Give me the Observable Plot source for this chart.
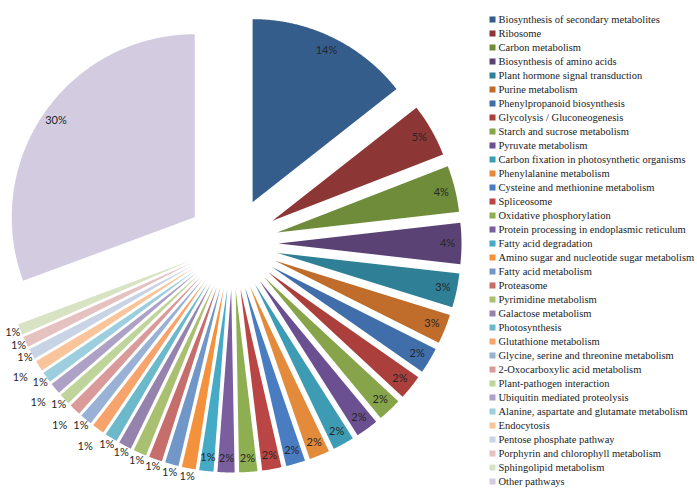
<!DOCTYPE html>
<html><head><meta charset="utf-8">
<script src="https://cdn.jsdelivr.net/npm/d3@7"></script>
<script src="https://cdn.jsdelivr.net/npm/@observablehq/plot@0.6"></script>
<style>
html,body{margin:0;padding:0;background:#fff;}
#wrap{position:relative;width:697px;height:502px;overflow:hidden;background:#fff;}
#pie{position:absolute;left:0;top:0;}
#legend{position:absolute;left:480px;top:0;}
</style></head><body><div id="wrap"><div id="pie"></div><div id="legend"></div></div>
<script>
const pathways = [
  "Biosynthesis of secondary metabolites","Ribosome","Carbon metabolism","Biosynthesis of amino acids",
  "Plant hormone signal transduction","Purine metabolism","Phenylpropanoid biosynthesis","Glycolysis / Gluconeogenesis",
  "Starch and sucrose metabolism","Pyruvate metabolism","Carbon fixation in photosynthetic organisms","Phenylalanine metabolism",
  "Cysteine and methionine metabolism","Spliceosome","Oxidative phosphorylation","Protein processing in endoplasmic reticulum",
  "Fatty acid degradation","Amino sugar and nucleotide sugar metabolism","Fatty acid metabolism","Proteasome",
  "Pyrimidine metabolism","Galactose metabolism","Photosynthesis","Glutathione metabolism",
  "Glycine, serine and threonine metabolism","2-Oxocarboxylic acid metabolism","Plant-pathogen interaction","Ubiquitin mediated proteolysis",
  "Alanine, aspartate and glutamate metabolism","Endocytosis","Pentose phosphate pathway","Porphyrin and chlorophyll metabolism",
  "Sphingolipid metabolism","Other pathways"
];
const shares = [
  14.4, 4.7, 4.1, 3.6, 3.0, 2.6, 2.3, 2.2, 2.1, 2.0, 1.9, 1.8, 1.7, 1.7, 1.6, 1.5,
  1.25, 1.22, 1.2, 1.18, 1.16, 1.14, 1.1, 1.07, 1.05, 1.03, 1.0, 0.98, 0.97, 0.96, 0.95, 0.95, 0.94,
  30.65
];
const percentLabels = [
  "14%","5%","4%","4%","3%","3%","2%","2%","2%","2%","2%","2%","2%","2%","2%","2%",
  "1%","1%","1%","1%","1%","1%","1%","1%","1%","1%","1%","1%","1%","1%","1%","1%","1%",
  "30%"
];
const colors = [
  "#345d8b","#8c3735","#6f8c3a","#5a4374","#2f8096","#c06c2b",
  "#3f6eaa","#aa3f3c","#87a44a","#6a5090","#3d9cb3","#e38b3a",
  "#4a7cc1","#b94644","#8eaf51","#7a5e9e","#45aac6","#f4913c",
  "#7097c8","#c66e6c","#a9c071","#9583ae","#6cb9cc","#f6a46c",
  "#9ab1d6","#d99a99","#bfd49a","#ada2c6","#9dcedd","#f9c49a",
  "#c8d3e6","#e5c1c0","#d7e3c3","#d3cce0"
];

// geometry (in radius units)
const PX = 183;            // pixels per radius unit
const explode = 46 / PX;   // exploded offset
const inside = 215 / PX;   // radius of inside labels
const outR = [237 / PX, 251 / PX, 265 / PX];

const arcs = d3.pie().sort(null).value(d => d)(shares);
const wedges = [];
arcs.forEach((a, i) => {
  const m = (a.startAngle + a.endAngle) / 2;
  const ox = explode * Math.sin(m), oy = explode * Math.cos(m);
  const name = pathways[i];
  wedges.push({name, x: ox, y: oy});
  const n = Math.max(2, Math.ceil((a.endAngle - a.startAngle) / 0.005));
  for (let k = 0; k <= n; k++) {
    const t = a.startAngle + (a.endAngle - a.startAngle) * k / n;
    wedges.push({name, x: ox + Math.sin(t), y: oy + Math.cos(t)});
  }
  wedges.push({name, x: ox, y: oy});
});

// labels: inside near the rim for the larger slices, outside (nudged outward on collision) for the rest
const labels = [];
const placed = [];
const bw = 14 / PX, bh = 12.5 / PX;
arcs.forEach((a, i) => {
  const m = (a.startAngle + a.endAngle) / 2;
  let r;
  if (shares[i] >= 1.24) r = inside;
  else {
    r = outR[outR.length - 1];
    for (const cand of outR) {
      const x = cand * Math.sin(m), y = cand * Math.cos(m);
      if (!placed.some(p => Math.abs(p.x - x) < bw && Math.abs(p.y - y) < bh)) { r = cand; break; }
    }
  }
  const lab = {x: r * Math.sin(m), y: r * Math.cos(m), text: percentLabels[i]};
  placed.push(lab);
  labels.push(lab);
});

const pie = Plot.plot({
  width: 480, height: 502, margin: 0,
  x: {domain: [-232 / PX, 248 / PX], axis: null},
  y: {domain: [-259 / PX, 243 / PX], axis: null},
  color: {domain: pathways, range: colors},
  marks: [
    Plot.line(wedges, {x: "x", y: "y", z: "name", fill: "name", stroke: "none", curve: "linear"}),
    Plot.text(labels, {x: "x", y: "y", text: "text", fontFamily: "Lato", fontSize: 11, fill: "#262626"})
  ]
});
document.getElementById("pie").appendChild(pie);

const legend = Plot.plot({
  width: 217, height: 502, margin: 0,
  x: {domain: [0, 217], range: [0, 217], axis: null},
  y: {type: "point", domain: pathways, range: [7.5, 493], padding: 0, axis: null},
  color: {domain: pathways, range: colors},
  marks: [
    Plot.dot(pathways, {x: () => 12, y: d => d, symbol: "square", r: 3.4, fill: d => d, stroke: "none"}),
    Plot.text(pathways, {x: () => 18, y: d => d, text: d => d, textAnchor: "start", fontFamily: "Liberation Serif", fontSize: 10.5, fill: "#222"})
  ]
});
document.getElementById("legend").appendChild(legend);
</script>
</body></html>
